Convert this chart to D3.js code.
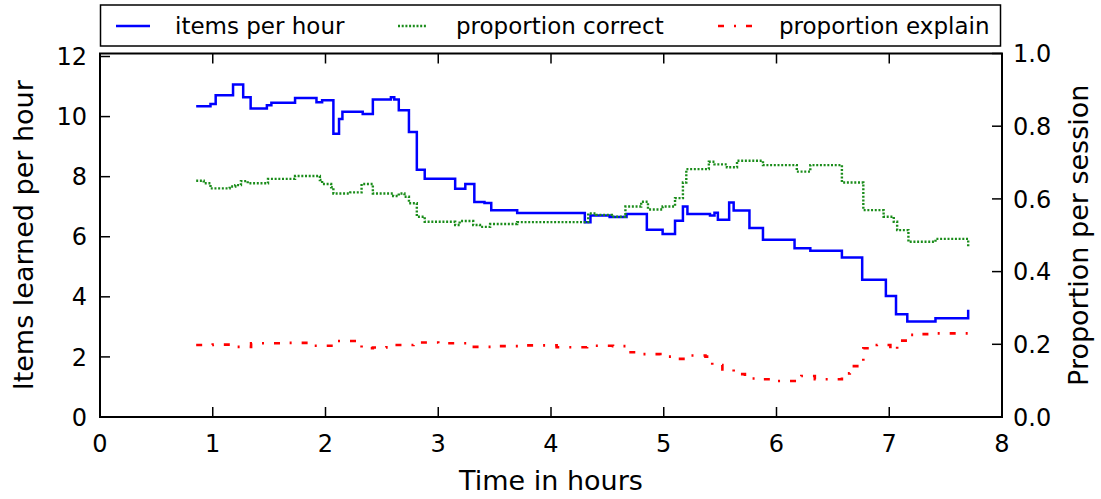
<!DOCTYPE html>
<html><head><meta charset="utf-8">
<script src="https://cdn.jsdelivr.net/npm/d3@7"></script>
<style>
html,body{margin:0;padding:0;background:#fff;}
svg text{font-family:"DejaVu Sans",sans-serif;fill:#000;}
</style></head>
<body><svg id="c" width="1101" height="499"></svg>
<script>
// ---- data ----
const xTicks = [0,1,2,3,4,5,6,7,8];
const yLeftTicks = [0,2,4,6,8,10,12];
const yRightTicks = [0.0,0.2,0.4,0.6,0.8,1.0];
const seriesNames = ["items per hour","proportion correct","proportion explain"];

const itemsTime = [0.853,0.98,1.026,1.18,1.27,1.336,1.48,1.52,1.73,1.92,1.97,2.07,2.12,2.15,2.33,2.42,2.58,2.61,2.65,2.74,2.81,2.88,3.15,3.24,3.32,3.41,3.47,3.70,4.30,4.35,4.52,4.67,4.85,4.99,5.10,5.17,5.21,5.41,5.45,5.48,5.58,5.62,5.76,5.88,6.16,6.30,6.58,6.76,6.97,7.06,7.16,7.41,7.70];
const itemsPerHour = [10.34,10.42,10.71,11.07,10.64,10.27,10.38,10.46,10.62,10.48,10.54,9.43,9.92,10.16,10.09,10.57,10.64,10.57,10.21,9.49,8.23,7.93,7.6,7.76,7.16,7.12,6.88,6.79,6.48,6.71,6.66,6.76,6.23,6.09,6.53,7.01,6.76,6.71,6.8,6.57,7.14,6.87,6.29,5.9,5.62,5.53,5.31,4.57,4.03,3.42,3.18,3.29,3.57];

const correctTime = [0.853,0.92,0.98,1.15,1.20,1.25,1.31,1.49,1.73,1.95,1.97,2.05,2.07,2.22,2.32,2.42,2.60,2.65,2.70,2.74,2.81,2.88,3.15,3.19,3.31,3.37,3.46,3.70,4.33,4.40,4.54,4.66,4.80,4.86,4.99,5.10,5.17,5.20,5.40,5.45,5.56,5.65,5.88,6.18,6.30,6.58,6.77,6.95,7.04,7.07,7.17,7.41,7.70];
const propCorrect = [0.650,0.643,0.629,0.634,0.638,0.649,0.643,0.655,0.663,0.652,0.641,0.632,0.615,0.618,0.641,0.615,0.608,0.615,0.606,0.588,0.551,0.537,0.528,0.539,0.528,0.523,0.531,0.536,0.560,0.556,0.551,0.579,0.592,0.571,0.579,0.602,0.645,0.682,0.702,0.695,0.687,0.705,0.693,0.675,0.693,0.645,0.569,0.551,0.537,0.514,0.482,0.490,0.468];

const explainTime = [0.853,1.0,1.2,1.34,1.6,1.83,2.07,2.32,2.42,2.54,2.78,3.0,3.25,3.49,3.78,4.05,4.32,4.55,4.67,4.79,4.97,5.12,5.22,5.37,5.43,5.52,5.62,5.72,5.85,5.99,6.12,6.22,6.34,6.47,6.58,6.65,6.77,6.89,7.01,7.07,7.16,7.29,7.42,7.57,7.70];
const propExplain = [0.198,0.199,0.193,0.203,0.204,0.196,0.209,0.189,0.191,0.198,0.205,0.203,0.193,0.195,0.197,0.192,0.196,0.195,0.178,0.173,0.166,0.160,0.169,0.166,0.143,0.131,0.118,0.106,0.104,0.099,0.099,0.113,0.104,0.104,0.120,0.140,0.189,0.198,0.184,0.210,0.226,0.228,0.230,0.230,0.233];

// ---- layout ----
const L = 100, R = 1002, T = 53.5, B = 417;
const svg = d3.select("#c");
const x = d3.scaleLinear().domain([0,8]).range([L,R]);
const yL = d3.scaleLinear().domain([0,12.1]).range([B,T]);
const yR = d3.scaleLinear().domain([0,1]).range([B,T]);

const tickLen = 10, fs = 24;

// series
function drawSeries(ts, vs, yScale, color, width, dash){
  const pts = ts.map((t,i)=>[t,vs[i]]);
  const line = d3.line().x(d=>x(d[0])).y(d=>yScale(d[1])).curve(d3.curveStepAfter);
  svg.append("path").datum(pts).attr("d",line).attr("fill","none")
    .attr("stroke",color).attr("stroke-width",width)
    .attr("stroke-dasharray",dash||null).attr("stroke-linejoin","miter");
}
drawSeries(itemsTime, itemsPerHour, yL, "#0000ff", 2.5, null);
drawSeries(correctTime, propCorrect, yR, "#1a8c1a", 2.4, "2,1.7");
drawSeries(explainTime, propExplain, yR, "#ff0000", 2.6, "6,10,2,10");

// axes with inward ticks
const ax = svg.append("g").attr("stroke","#000").attr("stroke-width",1.5);
xTicks.forEach(v=>{
  ax.append("line").attr("x1",x(v)).attr("x2",x(v)).attr("y1",B).attr("y2",B-tickLen);
  ax.append("line").attr("x1",x(v)).attr("x2",x(v)).attr("y1",T).attr("y2",T+tickLen);
  svg.append("text").attr("x",x(v)).attr("y",B+35).attr("text-anchor","middle")
    .attr("font-size",fs).text(d3.format("d")(v));
});
yLeftTicks.forEach(v=>{
  ax.append("line").attr("x1",L).attr("x2",L+tickLen).attr("y1",yL(v)).attr("y2",yL(v));
  svg.append("text").attr("x",L-13).attr("y",yL(v)).attr("dy","0.36em").attr("text-anchor","end")
    .attr("font-size",fs).text(d3.format("d")(v));
});
yRightTicks.forEach(v=>{
  ax.append("line").attr("x1",R).attr("x2",R-tickLen).attr("y1",yR(v)).attr("y2",yR(v));
  svg.append("text").attr("x",R+11).attr("y",yR(v)).attr("dy","0.36em").attr("text-anchor","start")
    .attr("font-size",fs).text(d3.format(".1f")(v));
});
svg.append("rect").attr("x",L).attr("y",T).attr("width",R-L).attr("height",B-T)
  .attr("fill","none").attr("stroke","#000").attr("stroke-width",2);

// axis labels
svg.append("text").attr("x",(L+R)/2).attr("y",490).attr("text-anchor","middle")
  .attr("font-size",27).text("Time in hours");
svg.append("text").attr("transform",`translate(33,${(T+B)/2}) rotate(-90)`)
  .attr("text-anchor","middle").attr("font-size",27).text("Items learned per hour");
svg.append("text").attr("transform",`translate(1088,${(T+B)/2}) rotate(-90)`)
  .attr("text-anchor","middle").attr("font-size",27).text("Proportion per session");

// legend
const lg = svg.append("g");
lg.append("rect").attr("x",100.5).attr("y",5).attr("width",900).attr("height",41)
  .attr("fill","#fff").attr("stroke","#000").attr("stroke-width",1.5);
const legendItems = [
  {name:seriesNames[0], color:"#0000ff", dash:null, x0:116, x1:150, tx:175},
  {name:seriesNames[1], color:"#1a8c1a", dash:"2,1.7", x0:398, x1:426, tx:456},
  {name:seriesNames[2], color:"#ff0000", dash:"6,10,2,10", x0:718, x1:756, tx:779}
];
legendItems.forEach(d=>{
  lg.append("line").attr("x1",d.x0).attr("x2",d.x1).attr("y1",26).attr("y2",26)
    .attr("stroke",d.color).attr("stroke-width",2.4).attr("stroke-dasharray",d.dash);
  lg.append("text").attr("x",d.tx).attr("y",26).attr("dy","0.36em")
    .attr("font-size",23).text(d.name);
});
</script></body></html>
